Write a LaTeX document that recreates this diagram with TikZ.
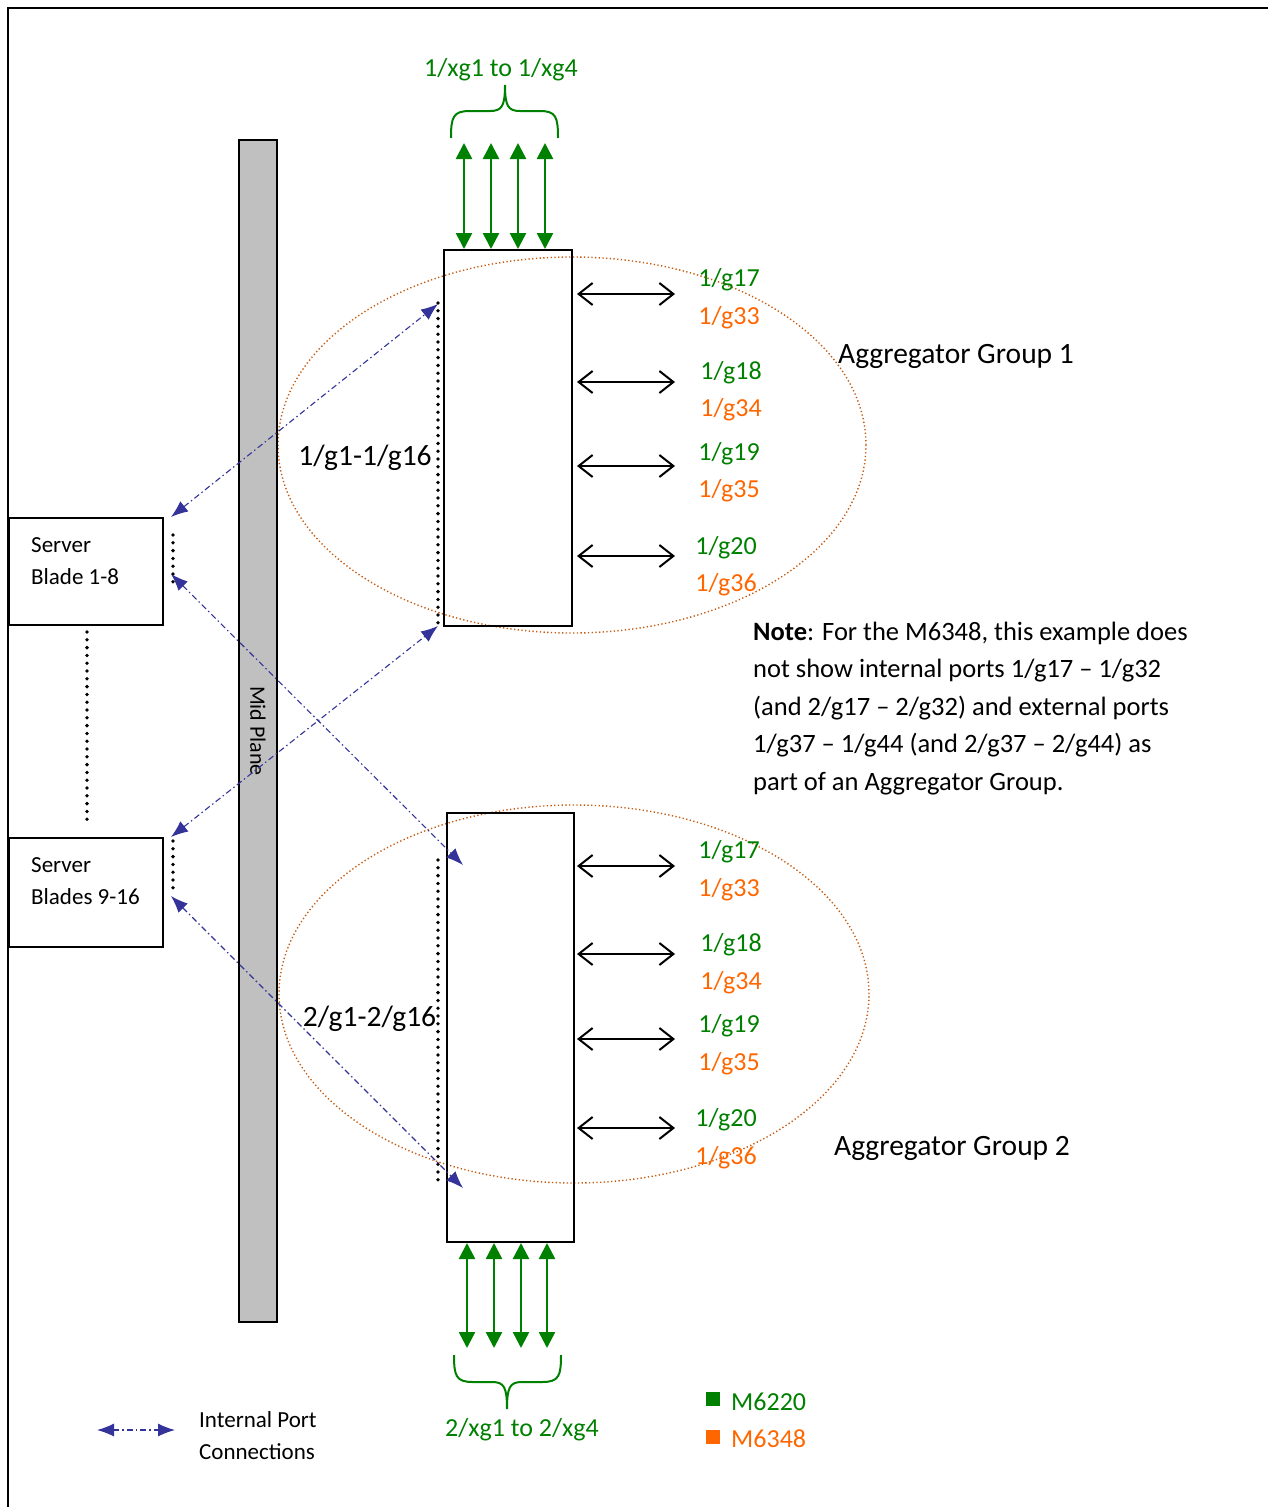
\documentclass[tikz,border=0pt]{standalone}
\usepackage{fontspec}
\setmainfont{Carlito}
\usetikzlibrary{arrows.meta,shapes.geometric}
\definecolor{pgreen}{RGB}{0,128,0}
\definecolor{porange}{RGB}{255,102,0}
\definecolor{pbrown}{RGB}{197,90,17}
\definecolor{pblue}{RGB}{51,51,153}
\definecolor{pgray}{RGB}{192,192,192}
\tikzset{
  box/.style={draw, line width=2pt, inner sep=0pt, fill=white},
  group/.style={draw=pbrown, ellipse, inner sep=0pt, line width=1.4pt, dash pattern=on 1.3pt off 2.4pt},
  dotline/.style={line width=3.8pt, line cap=round, dash pattern=on 0pt off 7.8pt},
  garrow/.style={draw=pgreen, line width=2.5pt, arrows={Triangle[length=16pt,width=16pt]-Triangle[length=16pt,width=16pt]}},
  barrow/.style={draw=black, line width=2pt, arrows={Straight Barb[length=14pt,width=22pt,line width=2pt]-Straight Barb[length=14pt,width=22pt,line width=2pt]}},
  iarrow/.style={draw=pblue, line width=1.1pt, dash pattern=on 6pt off 3pt on 1.5pt off 3pt, arrows={Latex[length=17pt,width=13pt]-Latex[length=17pt,width=13pt]}},
  brace/.style={draw=pgreen, line width=2pt},
  lbl/.style={inner sep=0pt},
  big/.style={lbl, font=\fontsize{29.5}{34}\selectfont},
  port/.style={lbl, font=\fontsize{26}{30}\selectfont},
  pg/.style={port, text=pgreen},
  po/.style={port, text=porange},
  small/.style={lbl, font=\fontsize{23}{27}\selectfont},
  note/.style={lbl, anchor=base west, font=\fontsize{26.5}{30}\selectfont},
}
\begin{document}
\begin{tikzpicture}[x=1pt,y=-1pt]
\useasboundingbox (0,0) rectangle (1268,1507);
% frame
\draw[line width=2.5pt] (8,1507) -- (8,8) -- (1268,8);

% ellipses (groups)
\node[group, minimum width=588pt, minimum height=376pt] (g1) at (572,445) {};
\node[group, minimum width=590pt, minimum height=378pt] (g2) at (574,994) {};

% mid plane
\node[draw, fill=pgray, line width=1.8pt, inner sep=0pt, minimum width=38pt, minimum height=1182pt] (mid) at (258,731) {};
\node[lbl, rotate=-90, font=\fontsize{22}{26}\selectfont] (midlbl) at (258,731) {Mid Plane};

% switches
\node[draw, line width=2pt, inner sep=0pt, minimum width=128pt, minimum height=376pt] (sw1) at (508,438) {};
\node[draw, line width=2pt, inner sep=0pt, minimum width=127pt, minimum height=429pt] (sw2) at (510.5,1027.5) {};

% servers
\node[box, minimum width=154pt, minimum height=107pt] (srv1) at (86,571.5) {};
\node[box, minimum width=154pt, minimum height=109pt] (srv2) at (86,892.5) {};
\node[small, anchor=base west] (srv1a) at (31,552) {Server};
\node[small, anchor=base west] (srv1b) at (31,584) {Blade 1-8};
\node[small, anchor=base west] (srv2a) at (31,872) {Server};
\node[small, anchor=base west] (srv2b) at (31,904) {Blades 9-16};

% dotted lines
\coordinate (d1a) at (87,632); \coordinate (d1b) at (87,826);
\draw[dotline] (d1a) -- (d1b);
\coordinate (d2a) at (173,535); \coordinate (d2b) at (173,586);
\draw[dotline] (d2a) -- (d2b);
\coordinate (d3a) at (173,841); \coordinate (d3b) at (173,892);
\draw[dotline] (d3a) -- (d3b);
\coordinate (d4a) at (438,303); \coordinate (d4b) at (438,624);
\draw[dotline] (d4a) -- (d4b);
\coordinate (d5a) at (438,860); \coordinate (d5b) at (438,1187);
\draw[dotline] (d5a) -- (d5b);

% internal port connections
\coordinate (ia1) at (171,517); \coordinate (ib1) at (438,304);
\coordinate (ia2) at (171,574); \coordinate (ib2) at (463,865);
\coordinate (ia3) at (171,837); \coordinate (ib3) at (438,626);
\coordinate (ia4) at (171,896); \coordinate (ib4) at (463,1188);
\draw[iarrow] (ia1) -- (ib1);
\draw[iarrow] (ia2) -- (ib2);
\draw[iarrow] (ia3) -- (ib3);
\draw[iarrow] (ia4) -- (ib4);

% green uplinks top
\foreach \i/\x in {1/464,2/491,3/518,4/545}{
  \coordinate (gt\i) at (\x,143);
  \draw[garrow] (gt\i) -- (gt\i |- sw1.north);
}
\draw[brace] (451,138) .. controls (451,117) and (453,111) .. (470,111) -- (490,111) .. controls (502,111) and (505,106) .. (505,85)
             .. controls (505,106) and (508,111) .. (520,111) -- (540,111) .. controls (556,111) and (558,117) .. (558,138);
\node[port, text=pgreen] (xg1) at (501,70) {1/xg1 to 1/xg4};

% green uplinks bottom
\foreach \i/\x in {1/467,2/494,3/521,4/547}{
  \coordinate (gb\i) at (\x,1348);
  \draw[garrow] (gb\i |- sw2.south) -- (gb\i);
}
\draw[brace] (454,1355) .. controls (454,1376) and (456,1382) .. (473,1382) -- (492,1382) .. controls (504,1382) and (507,1387) .. (507,1409)
             .. controls (507,1387) and (510,1382) .. (522,1382) -- (542,1382) .. controls (559,1382) and (561,1376) .. (561,1355);
\node[port, text=pgreen] (xg2) at (522,1430) {2/xg1 to 2/xg4};

% black port arrows
\foreach \i/\y in {1/294,2/382,3/466,4/556,5/866,6/954,7/1039,8/1128}{
  \coordinate (pa\i) at (577,\y); \coordinate (pb\i) at (675,\y);
  \draw[barrow] (pa\i) -- (pb\i);
}

% port labels group 1
\node[pg] (l17a) at (729,280) {1/g17};
\node[po] (l33a) at (729,318) {1/g33};
\node[pg] (l18a) at (731,373) {1/g18};
\node[po] (l34a) at (731,410) {1/g34};
\node[pg] (l19a) at (729,454) {1/g19};
\node[po] (l35a) at (729,491) {1/g35};
\node[pg] (l20a) at (726,548) {1/g20};
\node[po] (l36a) at (726,585) {1/g36};
% port labels group 2
\node[pg] (l17b) at (729,852) {1/g17};
\node[po] (l33b) at (729,890) {1/g33};
\node[pg] (l18b) at (731,945) {1/g18};
\node[po] (l34b) at (731,983) {1/g34};
\node[pg] (l19b) at (729,1026) {1/g19};
\node[po] (l35b) at (729,1064) {1/g35};
\node[pg] (l20b) at (726,1120) {1/g20};
\node[po] (l36b) at (726,1158) {1/g36};

% group labels
\node[big, anchor=west] (ag1) at (838,356) {Aggregator Group 1};
\node[big, anchor=west] (ag2) at (834,1148) {Aggregator Group 2};
\node[big] (rng1) at (365,458) {1/g1-1/g16};
\node[big] (rng2) at (369.5,1019) {2/g1-2/g16};

% note
\node[note] (n1) at (753,640) {\textbf{Note}: For the M6348, this example does};
\node[note] (n2) at (753,677) {not show internal ports 1/g17 – 1/g32};
\node[note] (n3) at (753,715) {(and 2/g17 – 2/g32) and external ports};
\node[note] (n4) at (753,752) {1/g37 – 1/g44 (and 2/g37 – 2/g44) as};
\node[note] (n5) at (753,790) {part of an Aggregator Group.};

% legend
\coordinate (la) at (97,1430); \coordinate (lb) at (175,1430);
\draw[iarrow] (la) -- (lb);
\node[lbl, anchor=base west, font=\fontsize{23}{27}\selectfont] (leg1) at (199,1427) {Internal Port};
\node[lbl, anchor=base west, font=\fontsize{23}{27}\selectfont] (leg2) at (199,1459) {Connections};
\node[fill=pgreen, minimum size=14pt, inner sep=0pt] (sqg) at (713,1399) {};
\node[fill=porange, minimum size=14pt, inner sep=0pt] (sqo) at (713,1437) {};
\node[port, text=pgreen, anchor=west] (m1) at (731,1402) {M6220};
\node[port, text=porange, anchor=west] (m2) at (731,1439) {M6348};
\end{tikzpicture}
\end{document}
